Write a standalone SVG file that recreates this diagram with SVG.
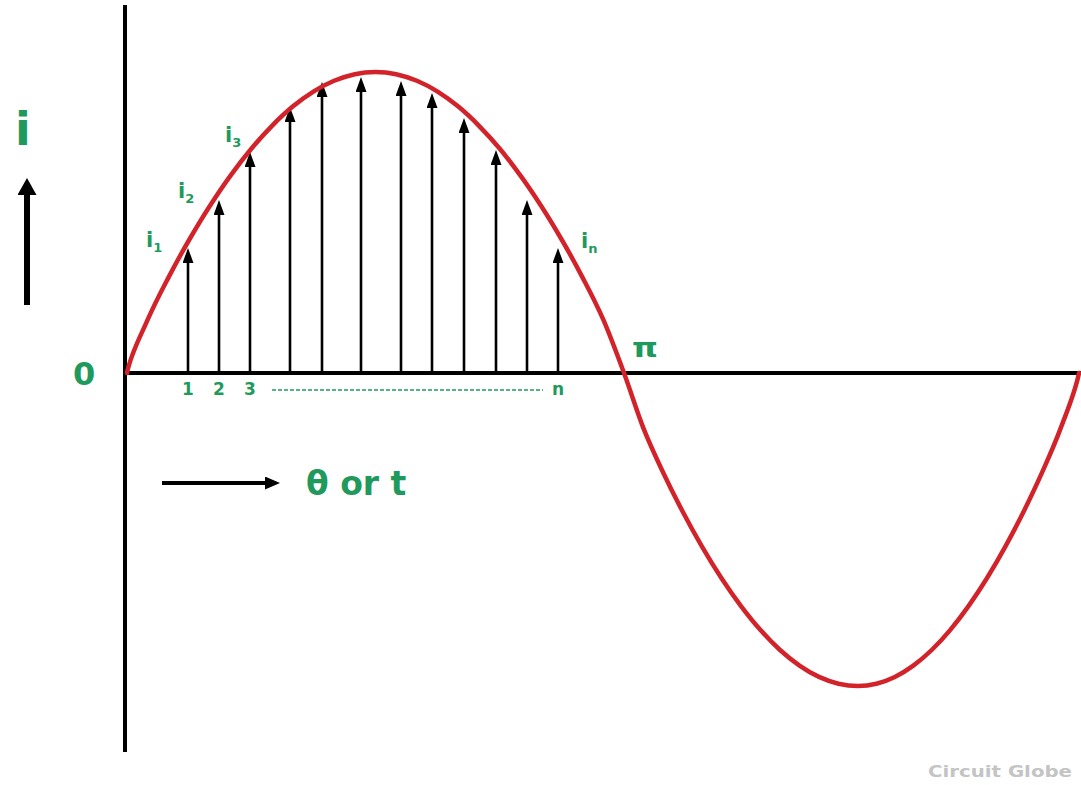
<svg xmlns="http://www.w3.org/2000/svg" width="1081" height="785" viewBox="0 0 1081 785">
<style>
.axis{stroke:#000;stroke-width:4;fill:none}
.curve{stroke:#d3232a;stroke-width:4.5;fill:none;stroke-linejoin:round;stroke-linecap:round}
.ord{stroke:#000;stroke-width:2.6;marker-end:url(#ah)}
.g{fill:#1f9a5c;font-family:"DejaVu Sans",Verdana,sans-serif;font-weight:bold}
.lab{font-size:21px}
.sub{font-size:13px}
</style>
<defs>
<marker id="ah" markerUnits="userSpaceOnUse" markerWidth="15" markerHeight="11" viewBox="0 0 15 11" refX="9" refY="5.5" orient="auto"><path d="M0,0 L15,5.5 L0,11 z" fill="#000"/></marker>
<marker id="ahBig" markerUnits="userSpaceOnUse" markerWidth="17" markerHeight="19" viewBox="0 0 17 19" refX="7" refY="9.5" orient="auto"><path d="M0,0 L17,9.5 L0,19 z" fill="#000"/></marker>
<marker id="ahMid" markerUnits="userSpaceOnUse" markerWidth="15" markerHeight="13" viewBox="0 0 15 13" refX="7" refY="6.5" orient="auto"><path d="M0,0 L15,6.5 L0,13 z" fill="#000"/></marker>
</defs>
<rect width="1081" height="785" fill="#fff"/>
<g id="axes">
<line class="axis" x1="125" y1="5" x2="125" y2="752" stroke-width="4.5"/>
<line class="axis" x1="125" y1="373" x2="1081" y2="373" stroke-width="3.5"/>
</g>
<g id="connectors">
<line class="ord" x1="188" y1="373" x2="188" y2="254"/>
<line class="ord" x1="219" y1="373" x2="219" y2="206"/>
<line class="ord" x1="250" y1="373" x2="250" y2="158"/>
<line class="ord" x1="290" y1="373" x2="290" y2="113"/>
<line class="ord" x1="322" y1="373" x2="322" y2="88"/>
<line class="ord" x1="361" y1="373" x2="361" y2="83"/>
<line class="ord" x1="401" y1="373" x2="401" y2="87"/>
<line class="ord" x1="432" y1="373" x2="432" y2="99"/>
<line class="ord" x1="464" y1="373" x2="464" y2="124"/>
<line class="ord" x1="496" y1="373" x2="496" y2="156"/>
<line class="ord" x1="527" y1="373" x2="527" y2="206"/>
<line class="ord" x1="558" y1="373" x2="558" y2="254"/>
<line x1="27" y1="305" x2="27" y2="188" stroke="#000" stroke-width="6" marker-end="url(#ahBig)"/>
<line x1="162" y1="483" x2="272" y2="483" stroke="#000" stroke-width="4" marker-end="url(#ahMid)"/>
<line x1="272" y1="390" x2="543" y2="390" stroke="#1f9a5c" stroke-width="1.6" stroke-dasharray="4 2"/>
</g>
<g id="wave">
<path class="curve" d="M127,373 C131,353 140.8,335.6 147.7,319.7 S161.5,290.9 168.4,277.6 S182.2,251.9 189.1,240 S202.9,216.7 209.8,206 S223.6,185.1 230.5,175.6 S244.4,157.1 251.3,148.8 S265.1,132.8 272,125.8 S285.8,112.3 292.7,106.6 S306.5,95.9 313.4,91.6 S327.2,83.7 334.1,80.8 S347.9,75.7 354.8,74.2 S368.6,72 375.5,72 S389.3,72.7 396.2,74.2 S410,77.9 416.9,80.8 S430.7,87.3 437.6,91.6 S451.4,100.9 458.3,106.6 S472.1,118.8 479,125.8 S492.9,140.5 499.8,148.8 S513.6,166.1 520.5,175.6 S534.3,195.3 541.2,206 S555,228.1 561.9,240 S575.7,264.3 582.6,277.6 S596.4,303.8 603.3,319.7 S617.3,354.9 624,373 S637,411.9 643.5,428.4 S656.5,458.4 663,472.2 S676,498.9 682.5,511.3 S695.5,535.5 702,546.7 S715,568.4 721.5,578.3 S734.5,597.5 741,606.1 S754,622.8 760.5,630.1 S773.5,644.1 780,650 S793,661.1 799.5,665.6 S812.5,673.9 819,676.9 S832,682.2 838.5,683.7 S851.7,686 858,686 S870.3,685.2 876.4,683.7 S888.7,679.9 894.8,676.9 S907.2,670.1 913.3,665.6 S925.6,655.9 931.7,650 S944,637.4 950.1,630.1 S962.4,614.7 968.5,606.1 S980.8,588.2 986.9,578.3 S999.2,557.9 1005.3,546.7 S1017.7,523.7 1023.8,511.3 S1036.1,486 1042.2,472.2 S1054.5,444.9 1060.6,428.4 S1075,393 1079,373"/>
</g>
<g id="labels">
<text class="g" x="15" y="145" font-size="46">i</text>
<text class="g" x="73" y="385" font-size="32">0</text>
<text class="g" x="632" y="357" font-size="27" textLength="26" lengthAdjust="spacingAndGlyphs">π</text>
<text class="g lab" x="146" y="247">i<tspan class="sub" dy="5">1</tspan></text>
<text class="g lab" x="178" y="198">i<tspan class="sub" dy="5">2</tspan></text>
<text class="g lab" x="225" y="142">i<tspan class="sub" dy="5">3</tspan></text>
<text class="g lab" x="581" y="248">i<tspan class="sub" dy="5">n</tspan></text>
<text class="g" x="188" y="395" font-size="17" text-anchor="middle">1</text>
<text class="g" x="219" y="395" font-size="17" text-anchor="middle">2</text>
<text class="g" x="250" y="395" font-size="17" text-anchor="middle">3</text>
<text class="g" x="558" y="395" font-size="17" text-anchor="middle">n</text>
<text class="g" x="306" y="495" font-size="33">θ or t</text>
<text x="928" y="777" font-family="'DejaVu Sans',Verdana,sans-serif" font-weight="bold" font-size="16" fill="#c4c4c4" textLength="144" lengthAdjust="spacingAndGlyphs">Circuit Globe</text>
</g>
</svg>
